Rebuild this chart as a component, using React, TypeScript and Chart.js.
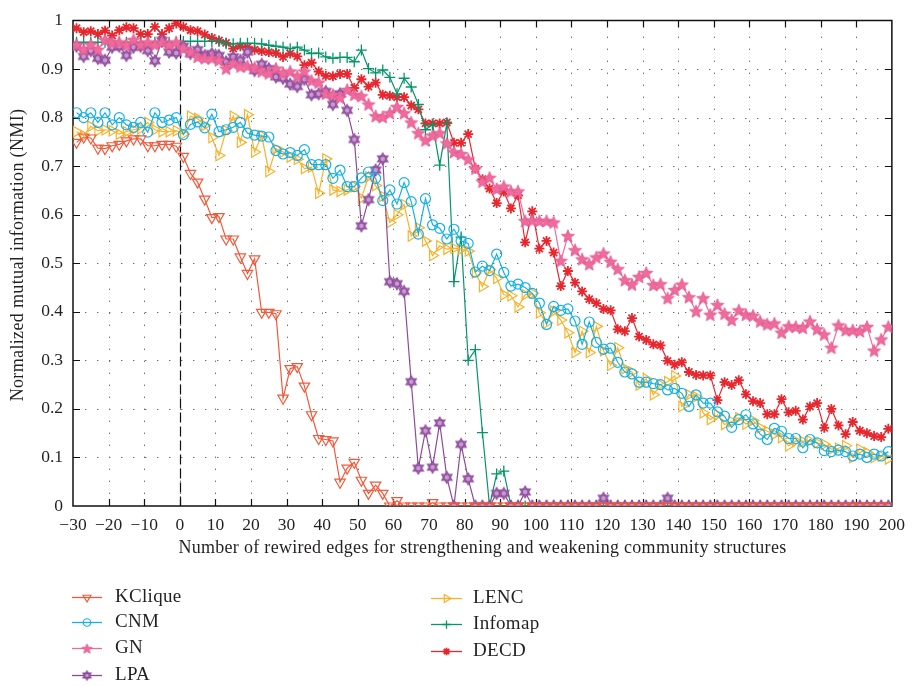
import React, { useEffect, useRef } from 'react';
import { Chart, registerables } from 'chart.js';
import { drawPoint } from 'chart.js/helpers';

Chart.register(...registerables);

// ---------------- data ----------------
const XS = [
  -29, -27, -25, -23, -21, -19, -17, -15, -13, -11, -9, -7, -5, -3, -1,
  1, 3, 5, 7, 9, 11, 13, 15, 17, 19, 21, 23, 25, 27, 29, 31, 33, 35, 37, 39,
  41, 43, 45, 47, 49, 51, 53, 55, 57, 59, 61, 63, 65, 67, 69, 71, 73, 75, 77, 79,
  81, 83, 85, 87, 89, 91, 93, 95, 97, 99, 101, 103, 105, 107, 109, 111, 113, 115, 117, 119,
  121, 123, 125, 127, 129, 131, 133, 135, 137, 139, 141, 143, 145, 147, 149, 151, 153, 155, 157, 159,
  161, 163, 165, 167, 169, 171, 173, 175, 177, 179, 181, 183, 185, 187, 189, 191, 193, 195, 197, 199,
];

const KCLIQUE = [
  0.749, 0.76, 0.758, 0.737, 0.736, 0.742, 0.745, 0.752, 0.756, 0.756, 0.742, 0.742, 0.745, 0.745, 0.741,
  0.72, 0.685, 0.667, 0.632, 0.594, 0.596, 0.55, 0.55, 0.513, 0.479, 0.509, 0.399, 0.399, 0.396, 0.222, 0.283, 0.287, 0.247,
  0.188, 0.139, 0.137, 0.134, 0.049, 0.078, 0.09, 0.053, 0.026, 0.043, 0.026, 0, 0.011, 0, 0, 0, 0, 0.007,
  0, 0, 0, 0, 0, 0, 0, 0,
  0, 0, 0, 0, 0, 0, 0, 0,
  0, 0, 0, 0, 0, 0, 0, 0,
  0, 0, 0, 0, 0, 0, 0, 0,
  0, 0, 0, 0, 0, 0, 0, 0,
  0, 0, 0, 0, 0, 0, 0, 0,
  0, 0, 0, 0, 0, 0, 0, 0,
  0, 0, 0, 0, 0, 0, 0, 0,
];

const CNM = [
  0.81, 0.80, 0.81, 0.79, 0.81, 0.785, 0.80, 0.785, 0.78, 0.79, 0.77, 0.81, 0.79, 0.795, 0.80,
  0.765, 0.786, 0.791, 0.779, 0.807, 0.771, 0.775, 0.78, 0.79, 0.768, 0.764, 0.762, 0.76, 0.732, 0.725,
  0.728, 0.722, 0.734, 0.703, 0.703, 0.703, 0.675, 0.692, 0.658, 0.658,
  0.676, 0.688, 0.675, 0.629, 0.651, 0.622, 0.666, 0.627, 0.56, 0.633, 0.579, 0.572, 0.55, 0.57, 0.546,
  0.541, 0.482, 0.494, 0.485, 0.519, 0.481, 0.453, 0.457, 0.45, 0.438, 0.418, 0.374, 0.411, 0.403, 0.406,
  0.381, 0.333, 0.379, 0.337, 0.323,
  0.325, 0.296, 0.276, 0.272, 0.255, 0.255, 0.252, 0.25, 0.239, 0.242, 0.232, 0.205, 0.229, 0.212, 0.212,
  0.194, 0.185, 0.162, 0.178, 0.188, 0.169, 0.148, 0.137, 0.16, 0.154, 0.139, 0.139, 0.12, 0.137, 0.13,
  0.114, 0.112, 0.115, 0.112, 0.103, 0.107, 0.10, 0.107, 0.103, 0.112,
];

const GN = [
  0.95, 0.94, 0.95, 0.94, 0.96, 0.955, 0.955, 0.95, 0.96, 0.95, 0.955, 0.95, 0.955, 0.95, 0.955,
  0.942, 0.935, 0.925, 0.922, 0.922, 0.918, 0.901, 0.911, 0.905, 0.906, 0.903, 0.895, 0.891, 0.901, 0.892,
  0.895, 0.885, 0.895, 0.876, 0.872, 0.849, 0.847,
  0.841, 0.857, 0.847, 0.844, 0.827, 0.803, 0.801, 0.809, 0.822, 0.809, 0.79, 0.768, 0.753, 0.763, 0.768,
  0.747, 0.729, 0.725, 0.714, 0.695, 0.668, 0.676, 0.653, 0.658, 0.648, 0.648, 0.587, 0.588, 0.587, 0.587, 0.584,
  0.505, 0.556, 0.527, 0.508, 0.498, 0.512, 0.52, 0.503, 0.488, 0.465, 0.456, 0.472, 0.48, 0.455, 0.457,
  0.428, 0.445, 0.456, 0.43, 0.401, 0.428, 0.394, 0.414, 0.396, 0.383, 0.403, 0.394, 0.392, 0.38, 0.374,
  0.376, 0.357, 0.37, 0.369, 0.367, 0.38, 0.364, 0.353, 0.326, 0.372, 0.362, 0.362, 0.36, 0.369, 0.32,
  0.343, 0.369,
];

const LPA = [
  0.947, 0.926, 0.938, 0.922, 0.918, 0.945, 0.947, 0.928, 0.945, 0.947, 0.938, 0.917, 0.959, 0.935, 0.933,
  0.947, 0.932, 0.94, 0.928, 0.932, 0.928, 0.915, 0.925, 0.918, 0.935, 0.897, 0.91, 0.901, 0.884, 0.881,
  0.869, 0.864, 0.879, 0.847, 0.849, 0.854, 0.827, 0.849, 0.815, 0.755,
  0.577, 0.631, 0.692, 0.715, 0.462, 0.458, 0.442, 0.256, 0.078, 0.155, 0.08, 0.171, 0.059, 0, 0.127,
  0.056, 0, 0, 0, 0.026, 0.026, 0, 0, 0.029,
  0, 0, 0, 0, 0, 0, 0, 0, 0, 0, 0.016, 0, 0, 0, 0, 0, 0, 0, 0, 0.016,
  0, 0, 0, 0, 0, 0, 0, 0, 0, 0, 0, 0, 0, 0, 0, 0,
  0, 0, 0, 0, 0, 0, 0, 0, 0, 0, 0, 0, 0, 0, 0,
];

const LENC = [
  0.771, 0.763, 0.782, 0.773, 0.775, 0.773, 0.766, 0.771, 0.775, 0.777, 0.79, 0.775, 0.771, 0.771, 0.773,
  0.766, 0.803, 0.798, 0.784, 0.759, 0.722, 0.773, 0.803, 0.749, 0.806, 0.729, 0.763, 0.689, 0.736, 0.729,
  0.719, 0.714, 0.695, 0.698, 0.644, 0.715, 0.651, 0.648, 0.651, 0.658,
  0.634, 0.678, 0.66, 0.638, 0.584, 0.6, 0.621,
  0.556, 0.573, 0.546, 0.516, 0.536, 0.529, 0.531, 0.529,
  0.525, 0.48, 0.452, 0.487, 0.469, 0.435, 0.433, 0.41, 0.435, 0.438, 0.398, 0.377, 0.401, 0.383, 0.357,
  0.316, 0.36, 0.316, 0.37, 0.32, 0.29, 0.326, 0.283,
  0.276, 0.249, 0.262, 0.229, 0.25, 0.256, 0.268, 0.205, 0.229, 0.225, 0.192, 0.178, 0.188, 0.168, 0.174,
  0.182, 0.169, 0.176, 0.161, 0.154, 0.148, 0.141, 0.124, 0.134, 0.133, 0.134, 0.13, 0.127, 0.117, 0.119,
  0.124, 0.10, 0.117, 0.11, 0.10, 0.103, 0.097,
];

const INFOMAP = [
  0.955, 0.955, 0.955, 0.955, 0.955, 0.955, 0.955, 0.955, 0.955, 0.955, 0.955, 0.955, 0.955, 0.955, 0.955,
  0.957, 0.957, 0.957, 0.957, 0.957, 0.957, 0.952, 0.952, 0.953, 0.953, 0.953, 0.952, 0.949, 0.947, 0.945,
  0.942, 0.945, 0.939, 0.932, 0.933, 0.925, 0.922,
  0.924, 0.924, 0.915, 0.939, 0.901, 0.892, 0.898, 0.883, 0.849, 0.881, 0.863, 0.827, 0.775, 0.786, 0.702,
  0.788, 0.462, 0.554, 0.30, 0.322, 0.151, 0, 0.066, 0.072, 0,
  0, 0, 0, 0, 0, 0, 0, 0, 0, 0, 0, 0, 0, 0, 0, 0, 0, 0,
  0, 0, 0, 0, 0, 0, 0, 0, 0, 0, 0, 0, 0, 0, 0, 0, 0, 0,
  0, 0, 0, 0, 0, 0, 0, 0, 0, 0, 0, 0, 0, 0, 0, 0, 0,
];

const DECD = [
  0.984, 0.976, 0.978, 0.972, 0.979, 0.969, 0.98, 0.986, 0.984, 0.972, 0.972, 0.987, 0.972, 0.984, 0.994,
  0.987, 0.98, 0.978, 0.971, 0.964, 0.959, 0.954, 0.942, 0.947, 0.945, 0.94, 0.937, 0.935, 0.933, 0.925,
  0.932, 0.926, 0.908, 0.913, 0.895, 0.886, 0.885,
  0.89, 0.89, 0.861, 0.879, 0.864, 0.872, 0.847, 0.845, 0.842, 0.842, 0.825, 0.817, 0.788, 0.788, 0.788,
  0.79, 0.748, 0.748, 0.766, 0.695, 0.673, 0.654, 0.624, 0.648, 0.613, 0.64,
  0.543, 0.607, 0.53, 0.546, 0.522, 0.453, 0.484, 0.46, 0.442, 0.426, 0.418,
  0.406, 0.403, 0.364, 0.36, 0.387, 0.349, 0.342, 0.333, 0.331, 0.299, 0.291, 0.296, 0.276, 0.27, 0.269,
  0.269, 0.218, 0.255, 0.249, 0.259, 0.23, 0.216, 0.212, 0.189, 0.189, 0.22, 0.193, 0.196, 0.178, 0.205,
  0.212, 0.161, 0.20, 0.166, 0.148, 0.173, 0.155, 0.15, 0.144, 0.142, 0.159,
];

const X_MIN = -30;
const X_MAX = 200;
const X_STEP = 10;
const Y_MIN = 0;
const Y_MAX = 1;
const Y_STEP = 0.1;

const X_TITLE = 'Number of rewired edges for strengthening and weakening community structures';
const Y_TITLE = 'Normalized mutual information (NMI)';

// ---------------- styling ----------------
const FONT = "'Liberation Serif', 'Times New Roman', serif";
const TEXT = '#231f20';

const C_KCLIQUE = '#f05a3c';
const C_CNM = '#14b1e7';
const C_GN = '#ef6b9e';
const C_LPA = '#8d4a9c';
const C_LENC = '#f8b22a';
const C_INFOMAP = '#049669';
const C_DECD = '#e8262e';

function makeStar(fill: string, stroke: string, outer: number, inner: number) {
  const size = Math.ceil(outer * 2 + 4);
  const c = document.createElement('canvas');
  c.width = size;
  c.height = size;
  const ctx = c.getContext('2d')!;
  const cx = size / 2;
  const cy = size / 2 + 0.5;
  ctx.beginPath();
  for (let k = 0; k < 10; k++) {
    const r = k % 2 === 0 ? outer : inner;
    const a = -Math.PI / 2 + (k * Math.PI) / 5;
    const px = cx + r * Math.cos(a);
    const py = cy + r * Math.sin(a);
    if (k === 0) ctx.moveTo(px, py);
    else ctx.lineTo(px, py);
  }
  ctx.closePath();
  ctx.fillStyle = fill;
  ctx.fill();
  ctx.strokeStyle = stroke;
  ctx.lineWidth = 0.8;
  ctx.stroke();
  return c;
}

function makeHexagram(fill: string, stroke: string, R: number) {
  const size = Math.ceil(R * 2 + 4);
  const c = document.createElement('canvas');
  c.width = size;
  c.height = size;
  const ctx = c.getContext('2d')!;
  const cx = size / 2;
  const cy = size / 2;
  const tri = (off: number) => {
    ctx.beginPath();
    for (let k = 0; k < 3; k++) {
      const a = off + (k * 2 * Math.PI) / 3;
      const px = cx + R * Math.sin(a);
      const py = cy - R * Math.cos(a);
      if (k === 0) ctx.moveTo(px, py);
      else ctx.lineTo(px, py);
    }
    ctx.closePath();
  };
  ctx.fillStyle = fill;
  tri(0);
  ctx.fill();
  tri(Math.PI);
  ctx.fill();
  ctx.strokeStyle = stroke;
  ctx.lineWidth = 1.3;
  tri(0);
  ctx.stroke();
  tri(Math.PI);
  ctx.stroke();
  return c;
}

type Series = {
  name: string;
  data: number[];
  color: string;
  style: any;
  rotation: number;
  radius: number;
  bw: number;
  legendStyle: any;
};

export default function App() {
  const ref = useRef<HTMLCanvasElement>(null);

  useEffect(() => {
    const canvas = ref.current!;
    const gnStar = makeStar(C_GN, '#e2568c', 6.8, 3.0);
    const gnStarSmall = makeStar(C_GN, '#e2568c', 5.2, 2.3);
    const lpaHex = makeHexagram('#c89bd0', C_LPA, 5.8);
    const lpaHexSmall = makeHexagram('#c89bd0', C_LPA, 4.5);

    const series: Series[] = [
      { name: 'KClique', data: KCLIQUE, color: C_KCLIQUE, style: 'triangle', rotation: 180, radius: 6, bw: 1.2, legendStyle: 'triangle' },
      { name: 'CNM', data: CNM, color: C_CNM, style: 'circle', rotation: 0, radius: 5, bw: 1.2, legendStyle: 'circle' },
      { name: 'GN', data: GN, color: C_GN, style: gnStar, rotation: 0, radius: 6, bw: 1, legendStyle: gnStarSmall },
      { name: 'LPA', data: LPA, color: C_LPA, style: lpaHex, rotation: 0, radius: 6, bw: 1, legendStyle: lpaHexSmall },
      { name: 'LENC', data: LENC, color: C_LENC, style: 'triangle', rotation: 90, radius: 6, bw: 1.2, legendStyle: 'triangle' },
      { name: 'Infomap', data: INFOMAP, color: C_INFOMAP, style: 'cross', rotation: 0, radius: 5.5, bw: 1.3, legendStyle: 'cross' },
      { name: 'DECD', data: DECD, color: C_DECD, style: 'star', rotation: 0, radius: 5, bw: 1.8, legendStyle: 'star' },
    ];

    const datasets = series.map((s) => ({
      label: s.name,
      data: XS.map((x, i) => ({ x, y: s.data[i] })),
      borderColor: s.color,
      backgroundColor: 'rgba(0,0,0,0)',
      borderWidth: 1.2,
      pointStyle: s.style,
      pointRotation: s.rotation,
      pointRadius: s.radius,
      pointBorderColor: s.color,
      pointBackgroundColor: 'rgba(0,0,0,0)',
      pointBorderWidth: s.bw,
      tension: 0,
      fill: false,
    }));

    const framePlugin = {
      id: 'frame',
      beforeDatasetsDraw(chart: any) {
        const { ctx, chartArea: a, scales } = chart;
        const xs = scales.x;
        const ys = scales.y;
        ctx.save();
        // dotted grid
        ctx.strokeStyle = '#6d6d6d';
        ctx.lineWidth = 1;
        ctx.setLineDash([1.4, 10.6]);
        for (let v = X_MIN + X_STEP; v < X_MAX; v += X_STEP) {
          const px = Math.round(xs.getPixelForValue(v)) + 0.5;
          ctx.beginPath();
          ctx.moveTo(px, a.bottom);
          ctx.lineTo(px, a.top);
          ctx.stroke();
        }
        for (let k = 1; k < 10; k++) {
          const v = Y_MIN + k * Y_STEP;
          const py = Math.round(ys.getPixelForValue(v)) + 0.5;
          ctx.beginPath();
          ctx.moveTo(a.left, py);
          ctx.lineTo(a.right, py);
          ctx.stroke();
        }
        // dashed line at x = 0
        ctx.strokeStyle = '#111';
        ctx.lineWidth = 1.2;
        ctx.setLineDash([10, 4]);
        const x0 = Math.round(xs.getPixelForValue(0)) + 0.5;
        ctx.beginPath();
        ctx.moveTo(x0, a.top);
        ctx.lineTo(x0, a.bottom);
        ctx.stroke();
        // frame
        ctx.setLineDash([]);
        ctx.strokeStyle = '#111';
        ctx.lineWidth = 1.5;
        ctx.strokeRect(a.left, a.top, a.right - a.left, a.bottom - a.top);
        // inward ticks
        const TL = 7;
        ctx.lineWidth = 1.2;
        for (let v = X_MIN + X_STEP; v < X_MAX; v += X_STEP) {
          const px = Math.round(xs.getPixelForValue(v)) + 0.5;
          ctx.beginPath();
          ctx.moveTo(px, a.bottom);
          ctx.lineTo(px, a.bottom - TL);
          ctx.moveTo(px, a.top);
          ctx.lineTo(px, a.top + TL);
          ctx.stroke();
        }
        for (let k = 1; k < 10; k++) {
          const v = Y_MIN + k * Y_STEP;
          const py = Math.round(ys.getPixelForValue(v)) + 0.5;
          ctx.beginPath();
          ctx.moveTo(a.left, py);
          ctx.lineTo(a.left + TL, py);
          ctx.moveTo(a.right, py);
          ctx.lineTo(a.right - TL, py);
          ctx.stroke();
        }
        ctx.restore();
      },
      afterDraw(chart: any) {
        const { ctx, chartArea: a } = chart;
        ctx.save();
        // axis titles (drawn here so the letter spacing can match the wider original face)
        ctx.fillStyle = TEXT;
        (ctx as any).letterSpacing = '0.3px';
        ctx.font = `18px ${FONT}`;
        ctx.textAlign = 'center';
        ctx.textBaseline = 'middle';
        ctx.fillText(X_TITLE, (a.left + a.right) / 2, 548);
        ctx.save();
        (ctx as any).letterSpacing = '0.35px';
        ctx.translate(18, 255);
        ctx.rotate(-Math.PI / 2);
        ctx.fillText(Y_TITLE, 0, 0);
        ctx.restore();

        // legend
        const cols = [
          { lx1: 72, lx2: 102, tx: 115, rows: [597, 622, 648, 675], idx: [0, 1, 2, 3] },
          { lx1: 431, lx2: 462, tx: 473, rows: [598, 624, 651], idx: [4, 5, 6] },
        ];
        for (const col of cols) {
          col.idx.forEach((si, r) => {
            const s = series[si];
            const y = col.rows[r];
            ctx.strokeStyle = s.color;
            ctx.lineWidth = 1.3;
            ctx.setLineDash([]);
            ctx.beginPath();
            ctx.moveTo(col.lx1, y + 0.5);
            ctx.lineTo(col.lx2, y + 0.5);
            ctx.stroke();
            const cx = (col.lx1 + col.lx2) / 2;
            ctx.fillStyle = 'rgba(0,0,0,0)';
            ctx.lineWidth = s.bw;
            drawPoint(ctx, { pointStyle: s.legendStyle, rotation: s.rotation, radius: s.radius * 0.75, borderWidth: s.bw } as any, cx, y + 0.5);
            ctx.fillStyle = TEXT;
            (ctx as any).letterSpacing = '0.3px';
            ctx.font = `19px ${FONT}`;
            ctx.textBaseline = 'middle';
            ctx.textAlign = 'left';
            ctx.fillText(s.name, col.tx, y);
          });
        }
        ctx.restore();
      },
    };

    const chart = new Chart(canvas, {
      type: 'line',
      data: { datasets },
      options: {
        animation: false,
        responsive: false,
        devicePixelRatio: 1,
        events: [],
        layout: { padding: { left: 0, right: 14, top: 13, bottom: 120 } },
        plugins: {
          legend: { display: false },
          tooltip: { enabled: false },
        },
        scales: {
          x: {
            type: 'linear',
            min: X_MIN,
            max: X_MAX,
            afterFit: (s: any) => { s.height = 60; },
            grid: { display: false, drawTicks: false },
            border: { display: false },
            ticks: {
              stepSize: X_STEP,
              autoSkip: false,
              maxRotation: 0,
              padding: 9,
              color: TEXT,
              font: { family: FONT, size: 17.5 },
              callback: (v: any) => String(v).replace('-', '\u2212'),
            },
            title: { display: false, text: X_TITLE },
          },
          y: {
            type: 'linear',
            min: Y_MIN,
            max: Y_MAX,
            afterFit: (s: any) => { s.width = 73; },
            grid: { display: false, drawTicks: false },
            border: { display: false },
            ticks: {
              stepSize: Y_STEP,
              padding: 10,
              color: TEXT,
              font: { family: FONT, size: 17.5 },
              callback: (v: any) => {
                const n = Number(v);
                if (Math.abs(n) < 1e-9) return '0';
                if (Math.abs(n - 1) < 1e-9) return '1';
                return n.toFixed(1);
              },
            },
            title: { display: false, text: Y_TITLE },
          },
        },
      },
      plugins: [framePlugin],
    } as any);

    return () => chart.destroy();
  }, []);

  return (
    <div style={{ position: 'absolute', left: 0, top: 0, width: 914, height: 686, background: '#fff' }}>
      <canvas ref={ref} width={914} height={686} style={{ display: 'block', width: 914, height: 686 }} />
    </div>
  );
}
